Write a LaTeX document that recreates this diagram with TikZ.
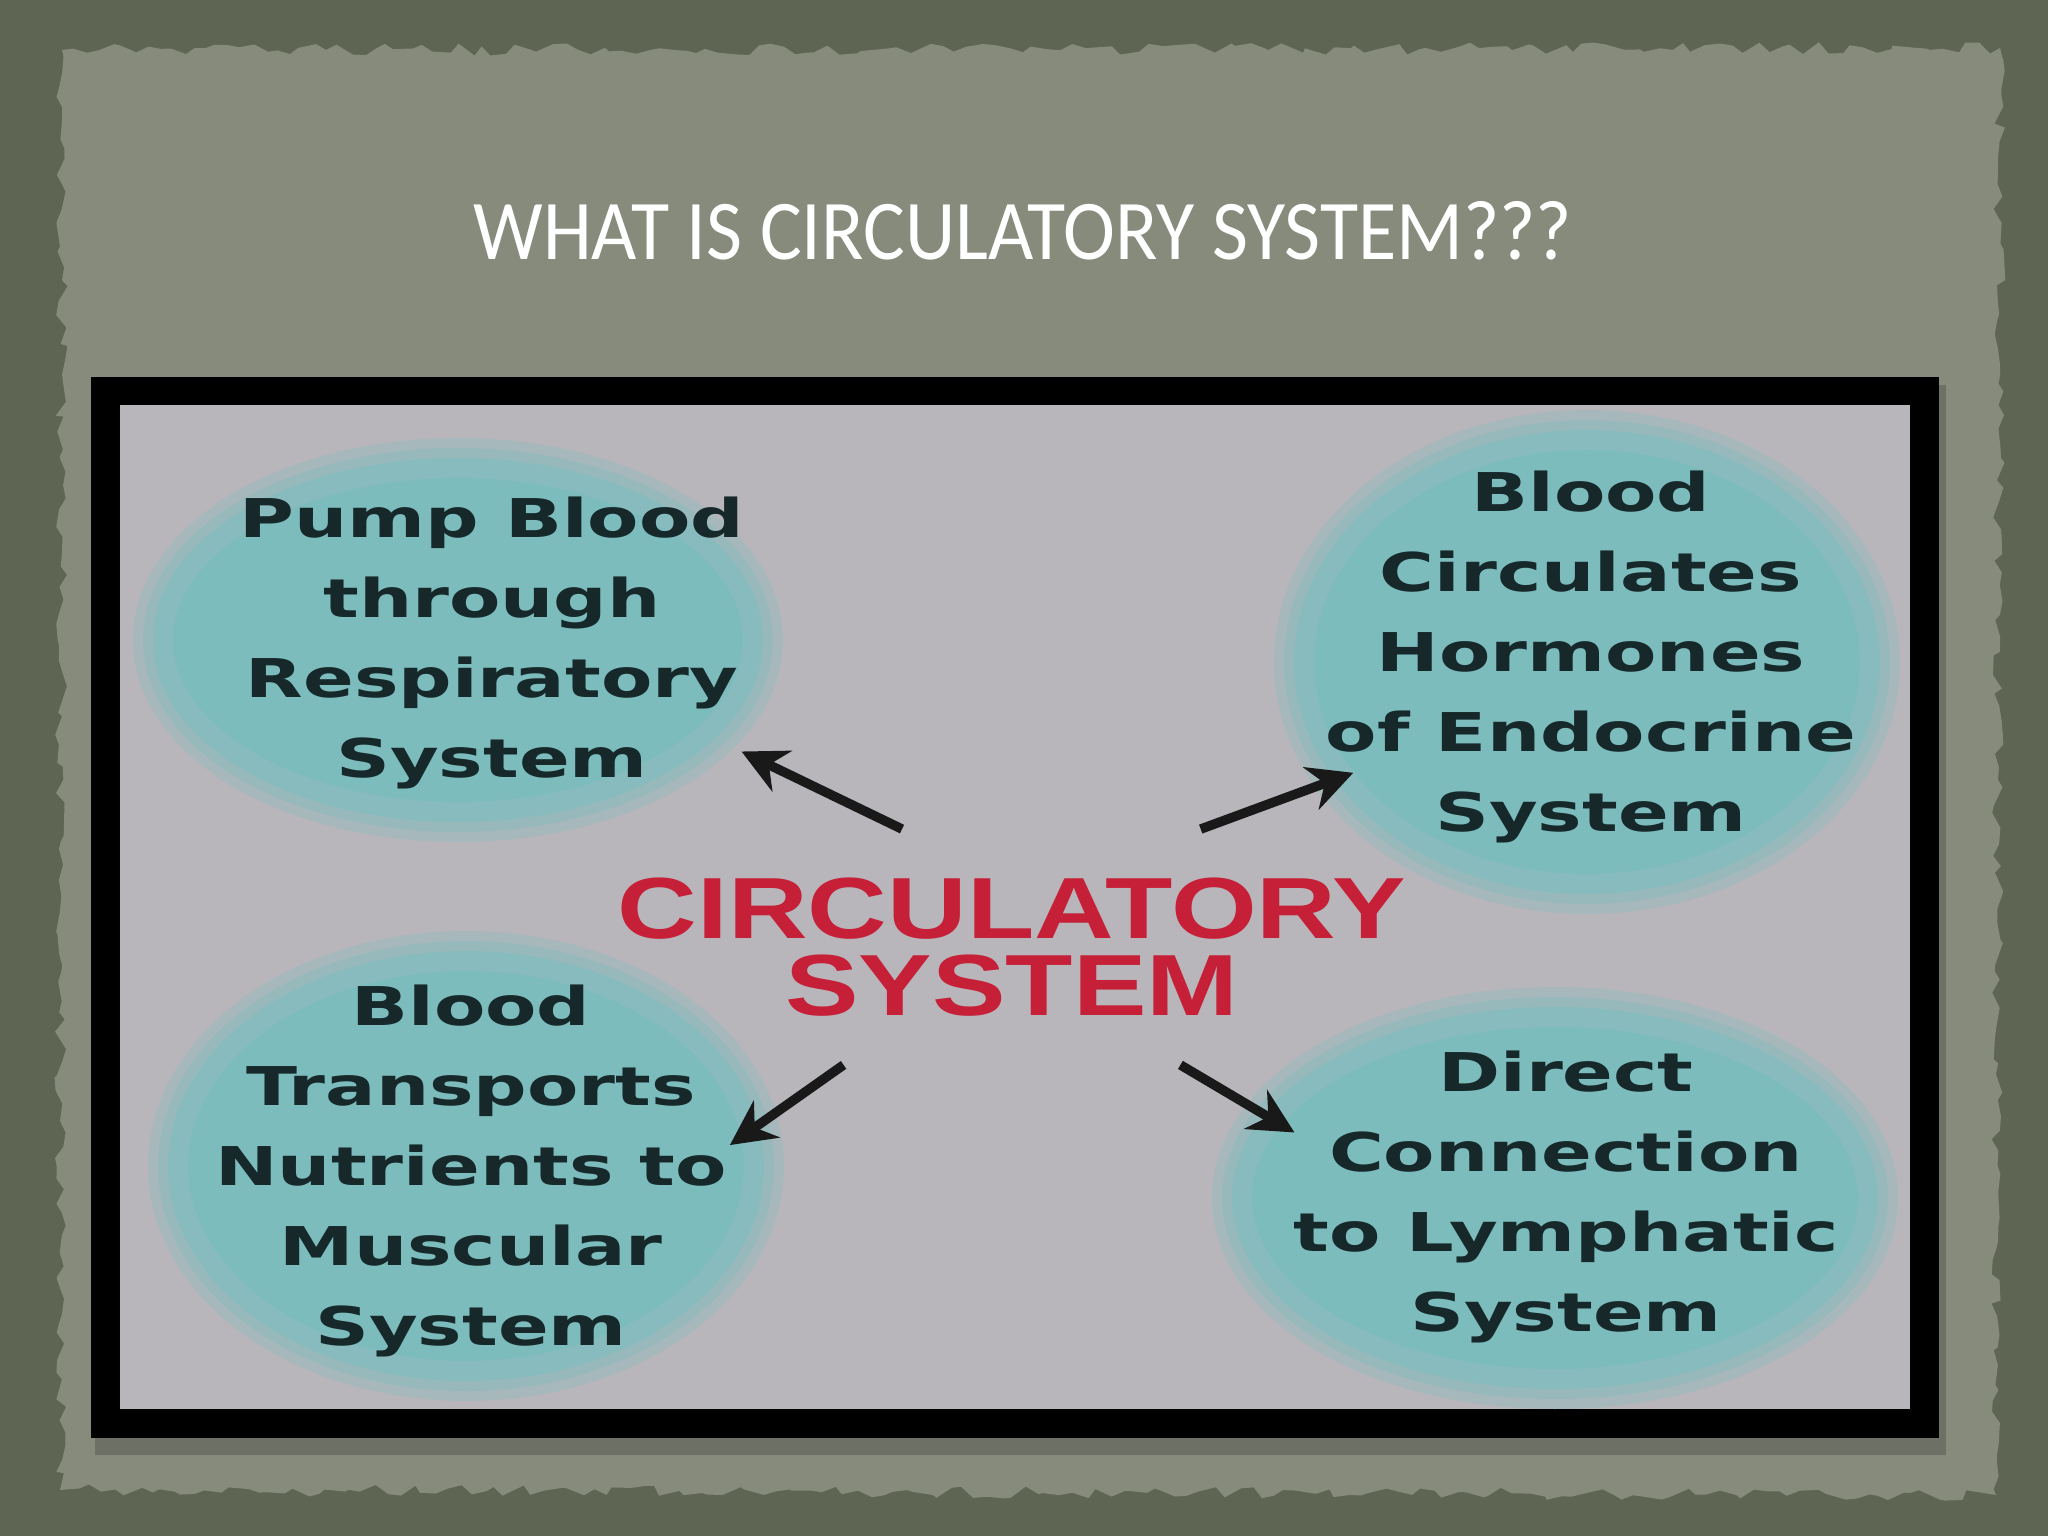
\documentclass[tikz,border=0pt]{standalone}
\usepackage{fontspec}
\usetikzlibrary{shapes.geometric,arrows.meta,decorations.pathmorphing}
\newfontfamily\titlefont[FakeStretch=0.92]{Carlito}
\newfontfamily\blobfont[FakeStretch=1.4]{DejaVu Sans}
\newfontfamily\hubfont[FakeStretch=1.27]{Liberation Sans}
\definecolor{mossdark}{RGB}{94,101,82}
\definecolor{paper}{RGB}{134,139,124}
\definecolor{panelgray}{RGB}{185,182,187}
\definecolor{blobteal}{RGB}{124,188,189}
\definecolor{inkteal}{RGB}{22,40,42}
\definecolor{hubred}{RGB}{198,32,56}

\tikzset{
  blob/.style={ellipse, inner sep=0pt, fill=blobteal,
    preaction={draw=blobteal!30!panelgray, line width=0.6cm},
    preaction={draw=blobteal!55!panelgray, line width=0.4cm},
    draw=blobteal!80!panelgray, line width=0.2cm},
  blobtext/.style={align=center, text=inkteal,
    font=\blobfont\bfseries\fontsize{15.2}{22.8}\selectfont},
  hub/.style={align=center, text=hubred, inner xsep=0pt, inner ysep=0.48cm,
    font=\hubfont\bfseries\fontsize{24.7}{21.9}\selectfont},
  titletext/.style={anchor=base, text=white,
    font=\titlefont\fontsize{24.2}{29}\selectfont},
  link/.style={draw=black!90, line width=0.095cm,
    -{Stealth[length=0.45cm,width=0.45cm]}},
}

\begin{document}
\begin{tikzpicture}
\useasboundingbox (0,0) rectangle (20.48,-15.36);
\pgfmathsetseed{7}
% torn paper on the dark backdrop
\fill[mossdark] (0,0) rectangle (20.48,-15.36);
\fill[paper, decorate, decoration={random steps, segment length=0.12cm, amplitude=0.06cm}]
  (0.62,-0.5) -- (20.0,-0.48) -- (19.96,-14.95) -- (0.6,-14.9) -- cycle;
\node[titletext] (title) at (10.23,-2.6) {WHAT IS CIRCULATORY SYSTEM???};

% framed picture
\fill[black, opacity=0.18] (0.95,-3.85) rectangle (19.46,-14.55);
\fill[black] (0.91,-3.77) rectangle (19.39,-14.38);
\fill[panelgray] (1.20,-4.05) rectangle (19.10,-14.09);

% the four bubbles
\node[blob, minimum width=5.9cm, minimum height=3.44cm] (resp) at (4.58,-6.40) {};
\node[blob, minimum width=5.66cm, minimum height=4.44cm] (endo) at (15.87,-6.62) {};
\node[blob, minimum width=5.76cm, minimum height=4.1cm] (musc) at (4.66,-11.66) {};
\node[blob, minimum width=6.26cm, minimum height=3.62cm] (lymph) at (15.55,-11.98) {};

\node[blobtext] (resp-txt) at (4.92,-6.43) {Pump Blood\\through\\Respiratory\\System};
\node[blobtext] (endo-txt) at (15.91,-6.57) {Blood\\Circulates\\Hormones\\of Endocrine\\System};
\node[blobtext] (musc-txt) at (4.71,-11.71) {Blood\\Transports\\Nutrients to\\Muscular\\System};
\node[blobtext] (lymph-txt) at (15.66,-11.97) {Direct\\Connection\\to Lymphatic\\System};

\node[hub] (hub) at (10.12,-9.47) {CIRCULATORY\\SYSTEM};

% arrows out of the middle
\draw[link, shorten >=0.3cm] (hub.133) -- (resp.-21);
\draw[link, shorten >=-0.2cm] (hub.32) -- (endo.205);
\draw[link, shorten >=-0.35cm] (hub.215) -- (musc.8);
\draw[link, shorten >=-0.35cm] (hub.-35) -- (lymph.164);
\end{tikzpicture}
\end{document}
